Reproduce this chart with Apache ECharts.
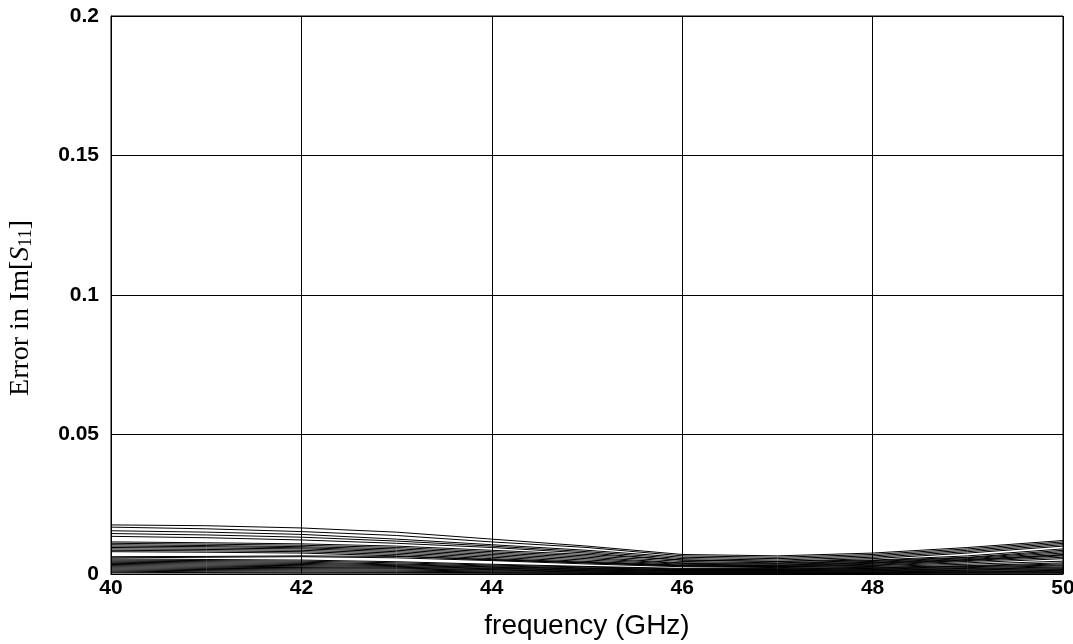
<!DOCTYPE html>
<html>
<head>
<meta charset="utf-8">
<script src="https://cdn.jsdelivr.net/npm/echarts@6/dist/echarts.min.js"></script>
<style>
  html, body { margin: 0; padding: 0; background: #fff; }
  #chart { width: 1073px; height: 644px; }
</style>
</head>
<body>
<div id="chart"></div>
<script>
// frequency points (GHz)
var freq = [40, 41, 42, 43, 44, 45, 46, 47, 48, 49, 50];

// error values, in units of 1e-3
var curves = [
  [17.6, 17.3, 16.5, 15.0, 12.5, 10.0, 7.0, 6.5, 7.5, 9.5, 12.0],
  [16.8, 16.2, 15.2, 13.8, 11.5, 9.5, 6.5, 6.0, 7.0, 9.0, 11.5],
  [15.5, 15.0, 14.2, 12.5, 10.5, 8.5, 6.0, 5.5, 6.5, 8.5, 11.0],
  [14.5, 14.0, 13.2, 11.8, 10.0, 8.0, 5.5, 5.0, 6.0, 8.0, 10.5],
  [13.5, 13.0, 12.2, 11.0, 9.5, 7.5, 5.0, 4.5, 5.5, 7.5, 10.0],
  [11.5, 11.2, 10.8, 10.0, 8.5, 7.0, 5.0, 4.5, 5.0, 6.5, 9.0],
  [11.0, 10.7, 10.3, 9.5, 8.0, 6.5, 4.5, 4.0, 4.8, 6.0, 8.5],
  [10.5, 10.2, 9.8, 9.0, 7.5, 6.0, 4.0, 3.8, 4.5, 5.8, 8.0],
  [10.0, 9.8, 9.4, 8.5, 7.0, 5.5, 3.8, 3.5, 4.2, 5.5, 7.5],
  [9.5, 9.3, 9.0, 8.0, 6.5, 5.0, 3.5, 3.2, 4.0, 5.2, 7.0],
  [9.0, 8.8, 8.5, 7.5, 6.0, 4.5, 3.2, 3.0, 3.8, 5.0, 6.8],
  [8.5, 8.3, 8.0, 7.0, 5.5, 4.2, 3.0, 2.8, 3.5, 4.8, 6.5],
  [8.0, 7.8, 7.5, 6.5, 5.0, 4.0, 2.8, 2.6, 3.2, 4.5, 6.0],
  [6.2, 6.3, 6.5, 6.3, 5.2, 4.0, 3.0, 2.6, 3.0, 4.0, 5.5],
  [5.8, 6.0, 6.2, 5.8, 4.8, 3.6, 2.6, 2.3, 2.7, 3.5, 4.6],
  [5.4, 5.2, 5.0, 4.4, 3.5, 2.7, 2.0, 2.0, 2.4, 3.0, 4.0],
  [5.0, 4.8, 4.6, 4.0, 3.2, 2.5, 1.8, 1.8, 2.2, 2.8, 3.6],
  [4.6, 4.4, 4.2, 3.6, 2.9, 2.2, 1.6, 1.6, 2.0, 2.6, 3.2],
  [4.2, 4.0, 3.8, 3.3, 2.6, 2.0, 1.5, 1.5, 1.8, 2.3, 2.9],
  [3.8, 3.6, 3.4, 3.0, 2.4, 1.8, 1.3, 1.3, 1.6, 2.0, 2.5],
  [3.4, 3.2, 3.0, 2.7, 2.1, 1.6, 1.2, 1.2, 1.4, 1.8, 2.2],
  [3.0, 2.8, 2.6, 2.4, 1.9, 1.4, 1.0, 1.0, 1.2, 1.5, 1.9],
  [2.6, 2.4, 2.3, 2.1, 1.6, 1.2, 0.9, 0.9, 1.0, 1.3, 1.6],
  [2.2, 2.0, 1.9, 1.8, 1.4, 1.0, 0.7, 0.7, 0.8, 1.0, 1.3],
  [1.8, 1.6, 1.5, 1.4, 1.1, 0.8, 0.6, 0.6, 0.6, 0.8, 1.0],
  [1.4, 1.2, 1.1, 1.0, 0.8, 0.6, 0.4, 0.4, 0.5, 0.6, 0.8],
  [1.0, 0.8, 0.7, 0.6, 0.5, 0.4, 0.3, 0.3, 0.3, 0.4, 0.5],
  [0.6, 0.5, 0.4, 0.4, 0.3, 0.2, 0.2, 0.2, 0.2, 0.3, 0.3]
];

var yTicks = [0, 0.05, 0.1, 0.15, 0.2];

var series = curves.map(function (c) {
  return {
    type: 'line',
    symbol: 'none',
    silent: true,
    lineStyle: { color: '#000', width: 1 },
    data: c.map(function (v, i) { return [freq[i], v / 1000]; })
  };
});

var chart = echarts.init(document.getElementById('chart'));
chart.setOption({
  animation: false,
  grid: {
    left: 111, right: 10, top: 16, bottom: 70,
    outerBoundsMode: 'none',
    show: true, borderColor: '#000', borderWidth: 1
  },
  xAxis: {
    type: 'value',
    min: 40, max: 50, interval: 2,
    name: 'frequency (GHz)',
    nameLocation: 'middle',
    nameGap: 38,
    nameTextStyle: { fontFamily: 'Liberation Sans', fontSize: 28, color: '#000' },
    axisLine: { lineStyle: { color: '#000' } },
    axisTick: { show: false },
    axisLabel: { fontFamily: 'Liberation Sans', fontWeight: 'bold', fontSize: 21, color: '#000', margin: 4 },
    splitLine: { lineStyle: { color: '#000', width: 1 } }
  },
  yAxis: {
    type: 'value',
    min: yTicks[0], max: yTicks[yTicks.length - 1], interval: 0.05,
    name: '{a|Error in Im[}{i|S}{s|11}{a|]}',
    nameLocation: 'middle',
    nameGap: 76,
    nameTextStyle: {
      padding: [0, 26, 0, 0],
      rich: {
        a: { fontFamily: 'Liberation Serif', fontSize: 28, color: '#000' },
        i: { fontFamily: 'Liberation Serif', fontStyle: 'italic', fontSize: 28, color: '#000' },
        s: { fontFamily: 'Liberation Serif', fontSize: 18, color: '#000', verticalAlign: 'bottom', padding: [11, 0, 0, 0] }
      }
    },
    axisLine: { lineStyle: { color: '#000' } },
    axisTick: { show: false },
    axisLabel: {
      fontFamily: 'Liberation Sans', fontWeight: 'bold', fontSize: 21, color: '#000', margin: 12,
      formatter: function (v) { return String(v); }
    },
    splitLine: { lineStyle: { color: '#000', width: 1 } }
  },
  series: series
});
</script>
</body>
</html>
